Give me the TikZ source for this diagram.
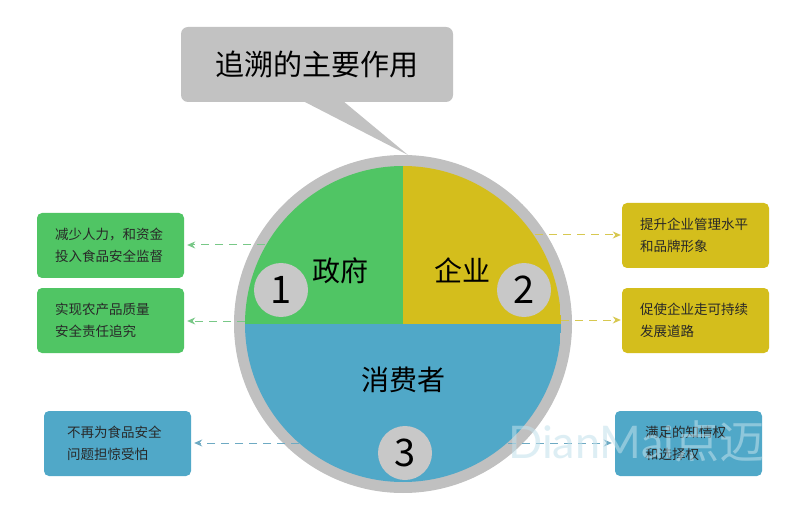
\documentclass[tikz,border=0pt]{standalone}
\usepackage{fontspec}
\setmainfont{Noto Sans CJK SC}
\newfontfamily\wmfont{Lato}
\usetikzlibrary{arrows.meta}
\definecolor{cgreen}{RGB}{80,197,100}
\definecolor{cyellow}{RGB}{212,190,28}
\definecolor{cblue}{RGB}{80,168,200}
\definecolor{cring}{RGB}{192,192,192}
\definecolor{cnum}{RGB}{200,200,200}
\definecolor{cgray}{RGB}{194,194,194}
\definecolor{agreen}{RGB}{120,200,135}
\definecolor{ayellow}{RGB}{215,200,80}
\definecolor{ablue}{RGB}{110,170,195}
\definecolor{ctext}{RGB}{40,40,40}
\tikzset{
  infobox/.style={rounded corners=5pt, minimum width=147pt, minimum height=65pt,
    align=left, text=ctext, font=\fontsize{13.5}{22}\selectfont, inner ysep=0pt},
  numcirc/.style={circle, fill=cnum, minimum size=54pt, inner sep=0pt,
    font=\fontsize{38}{38}\selectfont, text=black},
  seglabel/.style={font=\fontsize{28}{28}\selectfont, text=black},
  garrow/.style={draw=agreen, dash pattern=on 8pt off 6pt, line width=1pt, -{Stealth[length=8pt,width=7pt]}},
  yarrow/.style={draw=ayellow, dash pattern=on 8pt off 6pt, line width=1pt, -{Stealth[length=8pt,width=7pt]}},
  barrow/.style={draw=ablue, dash pattern=on 8pt off 6pt, line width=1pt, -{Stealth[length=8pt,width=7pt]}}
}
\begin{document}
\begin{tikzpicture}[x=1pt,y=-1pt]
\useasboundingbox (0,0) rectangle (800,521);
\fill[white] (0,0) rectangle (800,521);
% callout
\node[fill=cgray, rounded corners=7pt, minimum width=272pt, minimum height=75pt,
  font=\fontsize{29}{29}\selectfont, text=black] (title) at (317,64.5) {追溯的主要作用};
\coordinate (tailA) at (303,101);
\coordinate (tailB) at (343,101);
\coordinate (tip) at (408,155);
\fill[cgray] (tailA) -- (tip) -- (tailB) -- cycle;
% circle
\coordinate (c) at (403,324);
\fill[cring] (c) circle (169);
\begin{scope}
  \clip (c) circle (158);
  \fill[cgreen] (245,165) rectangle (403,324);
  \fill[cyellow] (403,165) rectangle (561,324);
  \fill[cblue] (245,324) rectangle (561,483);
\end{scope}
\node[seglabel] (gov) at (340,271) {政府};
\node[seglabel] (ent) at (462,270) {企业};
\node[seglabel] (con) at (403,380) {消费者};
\node[numcirc] (n1) at (281,290) {1};
\node[numcirc] (n2) at (524,290) {2};
\node[numcirc] (n3) at (405,453) {3};
% boxes
\node[infobox, fill=cgreen, inner xsep=18pt, text width=111pt] (g1) at (110.5,245.5) {减少人力，和资金\\投入食品安全监督};
\node[infobox, fill=cgreen, inner xsep=18pt, text width=111pt] (g2) at (110.5,320.5) {实现农产品质量\\安全责任追究};
\node[infobox, fill=cyellow, inner xsep=18pt, text width=111pt] (y1) at (695.5,235.5) {提升企业管理水平\\和品牌形象};
\node[infobox, fill=cyellow, inner xsep=18pt, text width=111pt] (y2) at (695.5,320.5) {促使企业走可持续\\发展道路};
\node[infobox, fill=cblue, inner xsep=23pt, text width=101pt] (b1) at (117.5,443.5) {不再为食品安全\\问题担惊受怕};
\node[infobox, fill=cblue, inner xsep=30pt, text width=87pt] (b2) at (688.5,443.5) {满足的知情权\\和选择权};
% arrows
\coordinate (sg1) at (265,245);
\coordinate (sg2) at (245,321);
\coordinate (sy1) at (535,235);
\coordinate (sy2) at (561,320);
\coordinate (sb1) at (299,443);
\coordinate (sb2) at (508,443);
\draw[garrow] (sg1) -- ([xshift=3pt]sg1 -| g1.east);
\draw[garrow] (sg2) -- ([xshift=3pt]sg2 -| g2.east);
\draw[yarrow] (sy1) -- ([xshift=-1pt]sy1 -| y1.west);
\draw[yarrow] (sy2) -- ([xshift=-1pt]sy2 -| y2.west);
\draw[barrow] (sb1) -- ([xshift=3pt]sb1 -| b1.east);
\draw[barrow] (sb2) -- ([xshift=-3pt]sb2 -| b2.west);
% watermark
\node[anchor=base west, inner sep=0pt, text=cblue!35, opacity=0.55,
  font=\fontsize{45}{45}\selectfont] (wm) at (508,458) {{\wmfont DianMai}点迈};
\end{tikzpicture}
\end{document}
